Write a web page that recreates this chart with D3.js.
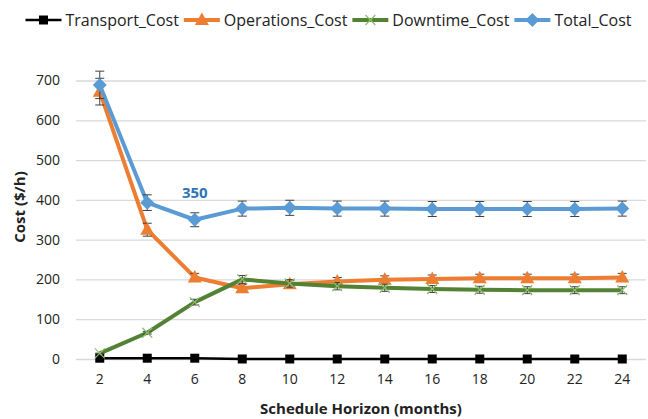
<!DOCTYPE html>
<html>
<head>
<meta charset="utf-8">
<script src="https://cdn.jsdelivr.net/npm/d3@7"></script>
<style>
  body { margin: 0; background: #fff; }
  text { font-family: 'Open Sans', 'Noto Sans', sans-serif; }
</style>
</head>
<body>
<svg id="chart" width="648" height="419"></svg>
<script>
// Schedule horizon (months) and hourly cost per component
const months = [2, 4, 6, 8, 10, 12, 14, 16, 18, 20, 22, 24];
const transportCost  = [2, 2, 2, 0, 0, 0, 0, 0, 0, 0, 0, 0];
const operationsCost = [672, 325, 205, 178, 188, 195, 199, 201, 203, 203, 203, 205];
const downtimeCost   = [14, 66, 143, 200, 190, 183, 179, 176, 174, 173, 173, 173];
const totalCost      = [689, 393, 350, 378, 380, 378, 378, 377, 377, 377, 377, 378];
const yTicks = [0, 100, 200, 300, 400, 500, 600, 700];
const errorPct = 0.05;
const labelledTotal = { month: 6, value: 350 };

const seriesList = [
  { name: "Transport_Cost",  values: transportCost,  color: "#000000", width: 2.5, marker: "square",   err: false },
  { name: "Operations_Cost", values: operationsCost, color: "#ED7D31", width: 4,   marker: "triangle", err: true },
  { name: "Downtime_Cost",   values: downtimeCost,   color: "#548235", width: 4,   marker: "cross",    err: true },
  { name: "Total_Cost",      values: totalCost,      color: "#5B9BD5", width: 4,   marker: "diamond",  err: true }
];

const svg = d3.select("#chart");
const plot = { left: 76, right: 646, top: 80.5, bottom: 359 };

const x = d3.scaleBand().domain(months).range([plot.left, plot.right]);
const cx = m => x(m) + x.bandwidth() / 2;
const y = d3.scaleLinear().domain([0, 700]).range([plot.bottom, plot.top]);

// Horizontal gridlines with value labels
const yAxis = svg.append("g")
  .attr("transform", `translate(${plot.left},0)`)
  .call(d3.axisLeft(y).tickValues(yTicks).tickSize(-(plot.right - plot.left)).tickPadding(16));
yAxis.select(".domain").remove();
yAxis.selectAll("line").attr("stroke", "#d9d9d9").attr("stroke-width", 1.3);
yAxis.selectAll("text").attr("font-size", 14).attr("fill", "#222");

// Month labels
const xAxis = svg.append("g")
  .attr("transform", `translate(0,${plot.bottom})`)
  .call(d3.axisBottom(x).tickSize(0).tickPadding(15));
xAxis.select(".domain").remove();
xAxis.selectAll("text").attr("font-size", 14).attr("fill", "#222");

// Axis titles
svg.append("text")
  .attr("x", 361).attr("y", 414)
  .attr("text-anchor", "middle")
  .attr("font-size", 15).attr("font-weight", "bold").attr("fill", "#222")
  .text("Schedule Horizon (months)");
svg.append("text")
  .attr("transform", "translate(25,207) rotate(-90)")
  .attr("text-anchor", "middle")
  .attr("font-size", 15).attr("font-weight", "bold").attr("fill", "#222")
  .text("Cost ($/h)");

// Marker shapes
function drawMarker(g, kind, color, px, py) {
  if (kind === "square") {
    g.append("rect").attr("x", px - 4.5).attr("y", py - 4.5).attr("width", 9).attr("height", 9).attr("fill", color);
  } else if (kind === "triangle") {
    g.append("path").attr("d", `M${px},${py - 7.5}L${px + 7},${py + 5}L${px - 7},${py + 5}Z`).attr("fill", color);
  } else if (kind === "diamond") {
    g.append("path").attr("d", `M${px},${py - 7}L${px + 7},${py}L${px},${py + 7}L${px - 7},${py}Z`).attr("fill", color);
  } else if (kind === "cross") {
    g.append("path").attr("d", `M${px - 5},${py - 5}L${px + 5},${py + 5}M${px - 5},${py + 5}L${px + 5},${py - 5}`)
      .attr("stroke", "#8fbf6e").attr("stroke-width", 1.2).attr("fill", "none");
  }
}

const line = d3.line().x(d => cx(d.m)).y(d => y(d.v));

seriesList.forEach(s => {
  const pts = months.map((m, i) => ({ m, v: s.values[i] }));
  const g = svg.append("g");
  g.append("path").datum(pts)
    .attr("d", line).attr("fill", "none")
    .attr("stroke", s.color).attr("stroke-width", s.width).attr("stroke-linejoin", "round");
  if (s.err) {
    pts.forEach(p => {
      const hi = y(p.v * (1 + errorPct)), lo = y(p.v * (1 - errorPct)), px = cx(p.m);
      g.append("path")
        .attr("d", `M${px},${hi}L${px},${lo}M${px - 4.5},${hi}L${px + 4.5},${hi}M${px - 4.5},${lo}L${px + 4.5},${lo}`)
        .attr("stroke", "#404040").attr("stroke-width", 1).attr("fill", "none");
    });
  }
  pts.forEach(p => drawMarker(g, s.marker, s.color, cx(p.m), y(p.v)));
});

// Data label on the minimum total cost
svg.append("text")
  .attr("x", cx(labelledTotal.month)).attr("y", y(labelledTotal.value) - 22)
  .attr("text-anchor", "middle")
  .attr("font-size", 15).attr("font-weight", "bold").attr("fill", "#2E75B6")
  .text(labelledTotal.value);

// Legend
const legend = svg.append("g");
let lx = 0;
const legendY = 20;
seriesList.forEach(s => {
  const item = legend.append("g").attr("transform", `translate(${lx},0)`);
  item.append("line").attr("x1", 0).attr("x2", 36).attr("y1", legendY).attr("y2", legendY)
    .attr("stroke", s.color).attr("stroke-width", s.width);
  drawMarker(item, s.marker, s.color, 18, legendY);
  const t = item.append("text").attr("x", 40).attr("y", legendY + 5.5)
    .attr("font-size", 16).attr("fill", "#222").text(s.name);
  lx += 40 + t.node().getComputedTextLength() + 5;
});
const legendWidth = lx - 5;
legend.attr("transform", `translate(${328.5 - legendWidth / 2},0)`);
</script>
</body>
</html>
